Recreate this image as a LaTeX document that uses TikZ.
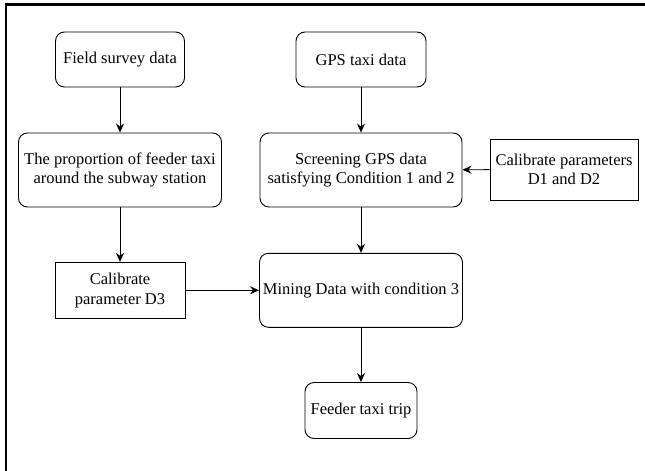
\documentclass[tikz,border=0pt]{standalone}
\usepackage{fontspec}
\setmainfont{Liberation Serif}
\newfontfamily\diagfont{Liberation Serif}
\usetikzlibrary{arrows.meta}
\begin{document}
\begin{tikzpicture}[x=1pt,y=-1pt,
  every node/.style={font=\diagfont\fontsize{16.5}{19.5}\selectfont, align=center, inner sep=0pt},
  rbox/.style={draw, line width=0.9pt, rounded corners=9pt},
  sbox/.style={draw, line width=0.9pt},
  conn/.style={line width=0.9pt, -{Stealth[length=9pt,width=8pt,inset=3pt]}},
  frameline/.style={line width=2.4pt}
]
\useasboundingbox (0,0) rectangle (645,471);
\draw[frameline] (6.2,471) -- (6.2,4.5) -- (645,4.5);

\node[rbox, minimum width=129pt, minimum height=55pt] (field) at (120,59.5) {Field survey data};
\node[rbox, minimum width=130pt, minimum height=55pt] (gps) at (361,59.5) {GPS taxi data};
\node[rbox, minimum width=203pt, minimum height=74pt] (prop) at (120,170) {The proportion of feeder taxi\\around the subway station};
\node[rbox, minimum width=202pt, minimum height=74pt] (screen) at (361,170) {Screening GPS data\\satisfying Condition 1 and 2};
\node[sbox, minimum width=148pt, minimum height=61pt] (d12) at (564,169.5) {Calibrate parameters\\D1 and D2};
\node[sbox, minimum width=130pt, minimum height=56pt] (d3) at (120,290.3) {Calibrate\\parameter D3};
\node[rbox, minimum width=203pt, minimum height=74pt] (mining) at (361,290.3) {Mining Data with condition 3};
\node[rbox, minimum width=112pt, minimum height=56pt] (feeder) at (361,410.5) {Feeder taxi trip};

\draw[conn] (field) -- (prop);
\draw[conn] (gps) -- (screen);
\draw[conn] (d12) -- (screen);
\draw[conn] (prop) -- (d3);
\draw[conn] (screen) -- (mining);
\draw[conn] (d3) -- (mining);
\draw[conn] (mining) -- (feeder);
\end{tikzpicture}
\end{document}
